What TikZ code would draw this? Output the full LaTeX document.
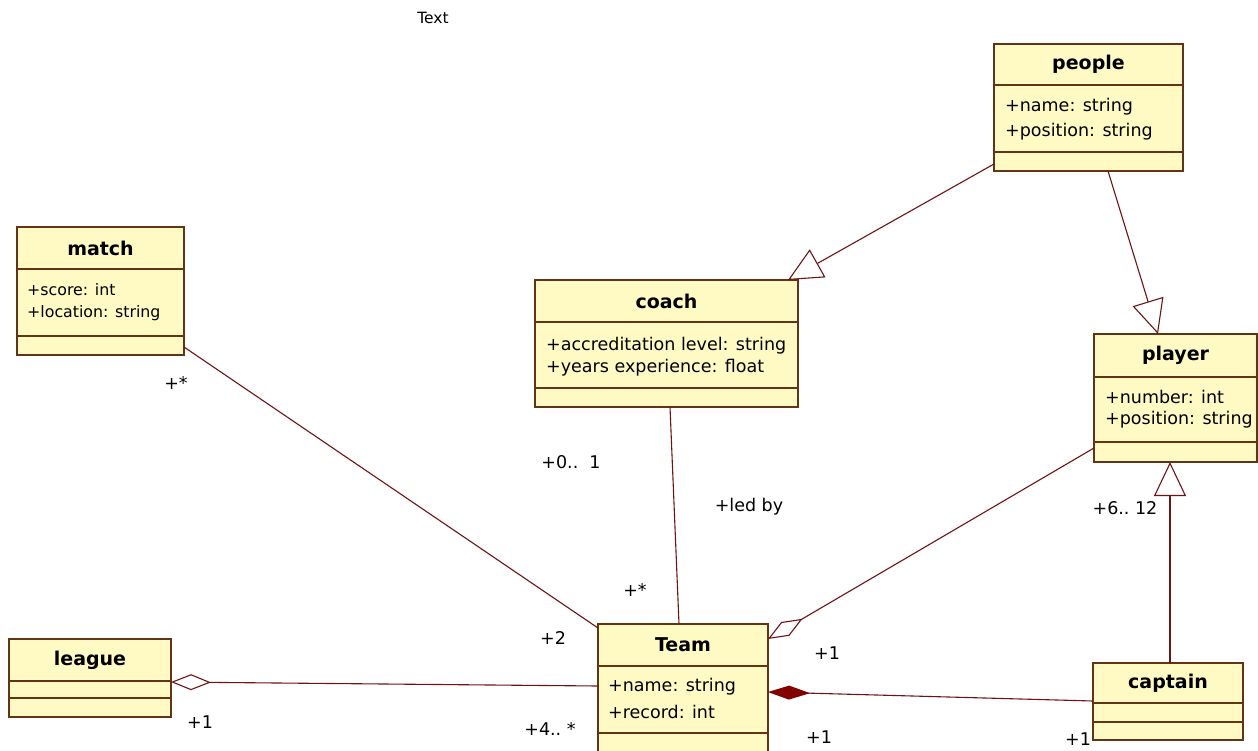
\documentclass[tikz,border=0pt]{standalone}
\usepackage{fontspec}
\setmainfont{DejaVu Sans}
\usetikzlibrary{arrows.meta,calc}
\definecolor{boxfill}{RGB}{255,250,196}
\definecolor{boxline}{RGB}{96,52,20}
\definecolor{conn}{RGB}{110,20,20}
\definecolor{compfill}{RGB}{130,0,0}
\newcommand{\umlclass}[8]{%
  \node[classbox, minimum width={#4-#2}, minimum height={#5-#3}] (#1) at (#2,#3) {};
  \draw[divider] (#2,#6) -- (#4,#6);
  \draw[divider] (#2,#7) -- (#4,#7);
  \node[title] (#1-title) at ({(#2+#4)/2},{(#3+#6)/2}) {#8};
}
\begin{document}
\begin{tikzpicture}[x=1pt,y=-1pt,
 classbox/.style={draw=boxline, fill=boxfill, line width=1.6pt, inner sep=0pt, outer sep=0pt, anchor=north west},
 divider/.style={draw=boxline, line width=1.6pt},
 title/.style={font=\fontsize{19}{22}\selectfont\bfseries, inner sep=0pt},
 attr/.style={font=\fontsize{17.5}{22}\selectfont, anchor=west, inner sep=0pt},
 sattr/.style={font=\fontsize{15.8}{20}\selectfont, anchor=west, inner sep=0pt},
 lbl/.style={font=\fontsize{17.5}{22}\selectfont, inner sep=0pt},
 assoc/.style={draw=conn, line width=1.1pt},
 gen/.style={assoc, -{Triangle[open, fill=white, length=34pt, width=32pt]}},
 agg/.style={assoc, {Diamond[open, fill=white, length=40pt, width=16pt]}-},
 comp/.style={assoc, {Diamond[fill=compfill, color=compfill, length=42pt, width=14pt]}-},
]
\clip (0,0) rectangle (1258,750);
\fill[white] (0,0) rectangle (1258,750);

% classes
\umlclass{people}{994}{44}{1183}{171}{85}{152}{people}
\node[attr] (people-a1) at (1005,107) {+name: string};
\node[attr] (people-a2) at (1005,132) {+position: string};

\umlclass{match}{17}{227}{184}{355}{269}{336}{match}
\node[sattr] (match-a1) at (27,290) {+score: int};
\node[sattr] (match-a2) at (27,313) {+location: string};

\umlclass{coach}{535}{280}{798}{407}{322}{388}{coach}
\node[attr] (coach-a1) at (546,346) {+accreditation level: string};
\node[attr] (coach-a2) at (546,368) {+years experience: float};

\umlclass{player}{1094}{334}{1257}{462}{377}{442}{player}
\node[attr] (player-a1) at (1105,397) {+number: int};
\node[attr] (player-a2) at (1105,420) {+position: string};

\umlclass{league}{9}{639}{171}{717}{681}{698}{league}

\umlclass{Team}{598}{624}{768}{775}{666}{733}{Team}
\node[attr] (Team-a1) at (608,687) {+name: string};
\node[attr] (Team-a2) at (608,712) {+record: int};

\umlclass{captain}{1093}{663}{1243}{740}{703}{722}{captain}

% connectors
\draw[gen] ($(people.south west)+(0,-7)$) -- ($(coach.north east)+(-10,0)$);
\draw[gen] ($(people.south west)+(114,0)$) -- ($(player.north west)+(64,0)$);
\draw[gen] ($(captain.north west)+(77,0)$) -- ($(player.south west)+(76,0)$);
\draw[agg] ($(Team.north east)+(0,15)$) -- ($(player.south west)+(0,-14)$);
\draw[assoc] ($(coach.south west)+(135,0)$) -- ($(Team.north west)+(81,0)$);
\draw[assoc] ($(match.south east)+(0,-8)$) -- ($(Team.north west)+(0,4)$);
\draw[agg] ($(league.north east)+(0,43)$) -- ($(Team.north west)+(0,62)$);
\draw[comp] ($(Team.north east)+(0,68)$) -- ($(captain.north west)+(0,38)$);

% labels
\node[lbl, font=\fontsize{15.5}{18}\selectfont] (txt) at (433,18) {Text};
\node[lbl] (l-match) at (176,383) {+*};
\node[lbl] (l-coach) at (571,462) {+0..\ \ 1};
\node[lbl] (l-ledby) at (749,507) {+led by};
\node[lbl] (l-teamc) at (635,590) {+*};
\node[lbl] (l-teamm) at (553,638) {+2};
\node[lbl] (l-league) at (200,722) {+1};
\node[lbl] (l-teaml) at (550,729) {+4..\ *};
\node[lbl] (l-teamp) at (827,653) {+1};
\node[lbl] (l-teamcap) at (819,737) {+1};
\node[lbl] (l-cap) at (1078,739) {+1};
\node[lbl] (l-player) at (1125,508) {+6..\ 12};
\end{tikzpicture}
\end{document}
